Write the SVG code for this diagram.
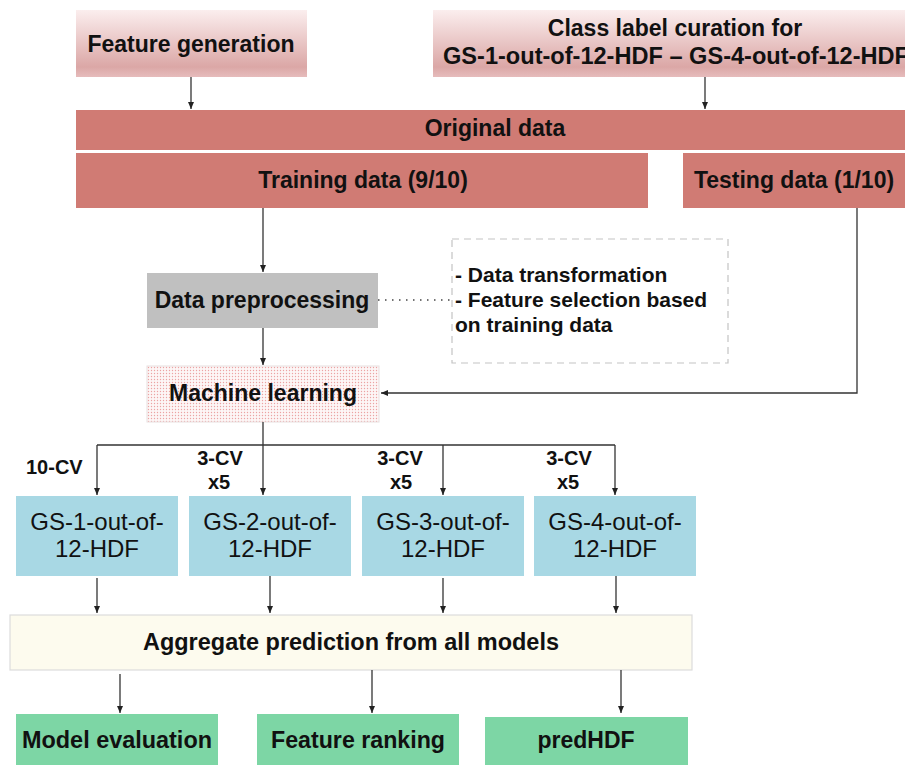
<svg xmlns="http://www.w3.org/2000/svg" width="905" height="765" viewBox="0 0 905 765">
<style>
text{font-family:"Liberation Sans",Arial,sans-serif;fill:#111}
.b{font-weight:bold;font-size:23px}
.m{text-anchor:middle}
.r{font-size:24px}
.s{font-weight:bold;font-size:20px}
.d{font-weight:bold;font-size:21px}
.c{stroke:#333;stroke-width:1.3;fill:none}
.red{fill:#d07b74}
.blue{fill:#a8d8e4}
.green{fill:#7dd6a5}
</style>
<defs>
<linearGradient id="pk" x1="0" y1="0" x2="0" y2="1">
<stop offset="0" stop-color="#fbeeee"/>
<stop offset="0.85" stop-color="#dba7a6"/>
<stop offset="1" stop-color="#e6bcbc"/>
</linearGradient>
<pattern id="dots" width="3" height="3" patternUnits="userSpaceOnUse">
<rect width="3" height="3" fill="#fdf6f6"/>
<circle cx="1.5" cy="1.5" r="0.7" fill="#eca3a3"/>
</pattern>
<marker id="ah" markerWidth="8" markerHeight="8" refX="7" refY="4" orient="auto" markerUnits="userSpaceOnUse">
<path d="M0,1 L7,4 L0,7 Z" fill="#222"/>
</marker>
</defs>

<g id="feature-generation">
<rect x="76" y="10" width="231" height="67" fill="url(#pk)"/>
<text class="b m" x="191" y="52">Feature generation</text>
</g>
<g id="class-label">
<rect x="433" y="10" width="480" height="67" fill="url(#pk)"/>
<text class="b m" x="675" y="36">Class label curation for</text>
<text class="b" x="443" y="64" textLength="466" lengthAdjust="spacingAndGlyphs">GS-1-out-of-12-HDF – GS-4-out-of-12-HDF</text>
</g>
<g id="original-data">
<rect class="red" x="76" y="110" width="840" height="40"/>
<text class="b m" x="495" y="136">Original data</text>
</g>
<g id="training-data">
<rect class="red" x="76" y="153" width="572" height="55"/>
<text class="b m" x="363" y="188">Training data (9/10)</text>
</g>
<g id="testing-data">
<rect class="red" x="683" y="153" width="230" height="55"/>
<text class="b m" x="794" y="188">Testing data (1/10)</text>
</g>
<g id="data-preprocessing">
<rect x="147" y="273" width="231" height="55" fill="#c0c0c0"/>
<text class="b m" x="262" y="308">Data preprocessing</text>
</g>
<g id="preprocessing-note">
<rect x="452" y="239" width="276" height="124" fill="none" stroke="#c4c4c4" stroke-width="1.2" stroke-dasharray="7,5"/>
<text class="d" x="455" y="282">- Data transformation</text>
<text class="d" x="455" y="307">- Feature selection based</text>
<text class="d" x="455" y="332">on training data</text>
</g>
<g id="machine-learning">
<rect x="147" y="366" width="232" height="56" fill="url(#dots)" stroke="#e8e0e0" stroke-width="1"/>
<text class="b m" x="263" y="401">Machine learning</text>
</g>
<g id="gs1">
<rect class="blue" x="16" y="496" width="162" height="80"/>
<text class="r m" x="97" y="530">GS-1-out-of-</text>
<text class="r m" x="97" y="557">12-HDF</text>
</g>
<g id="gs2">
<rect class="blue" x="189" y="496" width="162" height="80"/>
<text class="r m" x="270" y="530">GS-2-out-of-</text>
<text class="r m" x="270" y="557">12-HDF</text>
</g>
<g id="gs3">
<rect class="blue" x="362" y="496" width="162" height="80"/>
<text class="r m" x="443" y="530">GS-3-out-of-</text>
<text class="r m" x="443" y="557">12-HDF</text>
</g>
<g id="gs4">
<rect class="blue" x="534" y="496" width="162" height="80"/>
<text class="r m" x="615" y="530">GS-4-out-of-</text>
<text class="r m" x="615" y="557">12-HDF</text>
</g>
<g id="aggregate">
<rect x="10" y="615" width="682" height="55" fill="#fdfbee" stroke="#dcdcdc" stroke-width="1.2"/>
<text class="b m" x="351" y="650" textLength="416" lengthAdjust="spacingAndGlyphs">Aggregate prediction from all models</text>
</g>
<g id="model-evaluation">
<rect class="green" x="16" y="714" width="202" height="55"/>
<text class="b m" x="117" y="748" textLength="190" lengthAdjust="spacingAndGlyphs">Model evaluation</text>
</g>
<g id="feature-ranking">
<rect class="green" x="257" y="714" width="202" height="55"/>
<text class="b m" x="358" y="748" textLength="174" lengthAdjust="spacingAndGlyphs">Feature ranking</text>
</g>
<g id="predhdf">
<rect class="green" x="485" y="717" width="203" height="52"/>
<text class="b m" x="586" y="748">predHDF</text>
</g>

<g id="labels">
<text class="s" x="26" y="474">10-CV</text>
<text class="s m" x="220" y="465">3-CV</text>
<text class="s m" x="219" y="489">x5</text>
<text class="s m" x="400" y="465">3-CV</text>
<text class="s m" x="401" y="489">x5</text>
<text class="s m" x="569" y="465">3-CV</text>
<text class="s m" x="568" y="489">x5</text>
</g>

<g id="connectors">
<line class="c" x1="191" y1="77" x2="191" y2="109" marker-end="url(#ah)"/>
<line class="c" x1="705" y1="77" x2="705" y2="109" marker-end="url(#ah)"/>
<line class="c" x1="263" y1="208" x2="263" y2="272" marker-end="url(#ah)"/>
<line x1="378" y1="300" x2="452" y2="300" stroke="#444" stroke-width="1.5" stroke-dasharray="1.5,5.5"/>
<line class="c" x1="263" y1="328" x2="263" y2="365" marker-end="url(#ah)"/>
<polyline class="c" points="857,208 857,393 381,393" stroke="#555" stroke-width="1.6" marker-end="url(#ah)"/>
<line class="c" x1="263" y1="422" x2="263" y2="445"/>
<line class="c" x1="97" y1="445" x2="615" y2="445"/>
<line class="c" x1="97" y1="445" x2="97" y2="495" marker-end="url(#ah)"/>
<line class="c" x1="263" y1="445" x2="263" y2="495" marker-end="url(#ah)"/>
<line class="c" x1="443" y1="445" x2="443" y2="495" marker-end="url(#ah)"/>
<line class="c" x1="615" y1="445" x2="615" y2="495" marker-end="url(#ah)"/>
<line class="c" x1="97" y1="578" x2="97" y2="613" marker-end="url(#ah)"/>
<line class="c" x1="270" y1="576" x2="270" y2="613" marker-end="url(#ah)"/>
<line class="c" x1="443" y1="578" x2="443" y2="613" marker-end="url(#ah)"/>
<line class="c" x1="616" y1="576" x2="616" y2="613" marker-end="url(#ah)"/>
<line class="c" x1="120" y1="674" x2="120" y2="713" marker-end="url(#ah)"/>
<line class="c" x1="372" y1="670" x2="372" y2="713" marker-end="url(#ah)"/>
<line class="c" x1="621" y1="670" x2="621" y2="713" marker-end="url(#ah)"/>
</g>
</svg>
